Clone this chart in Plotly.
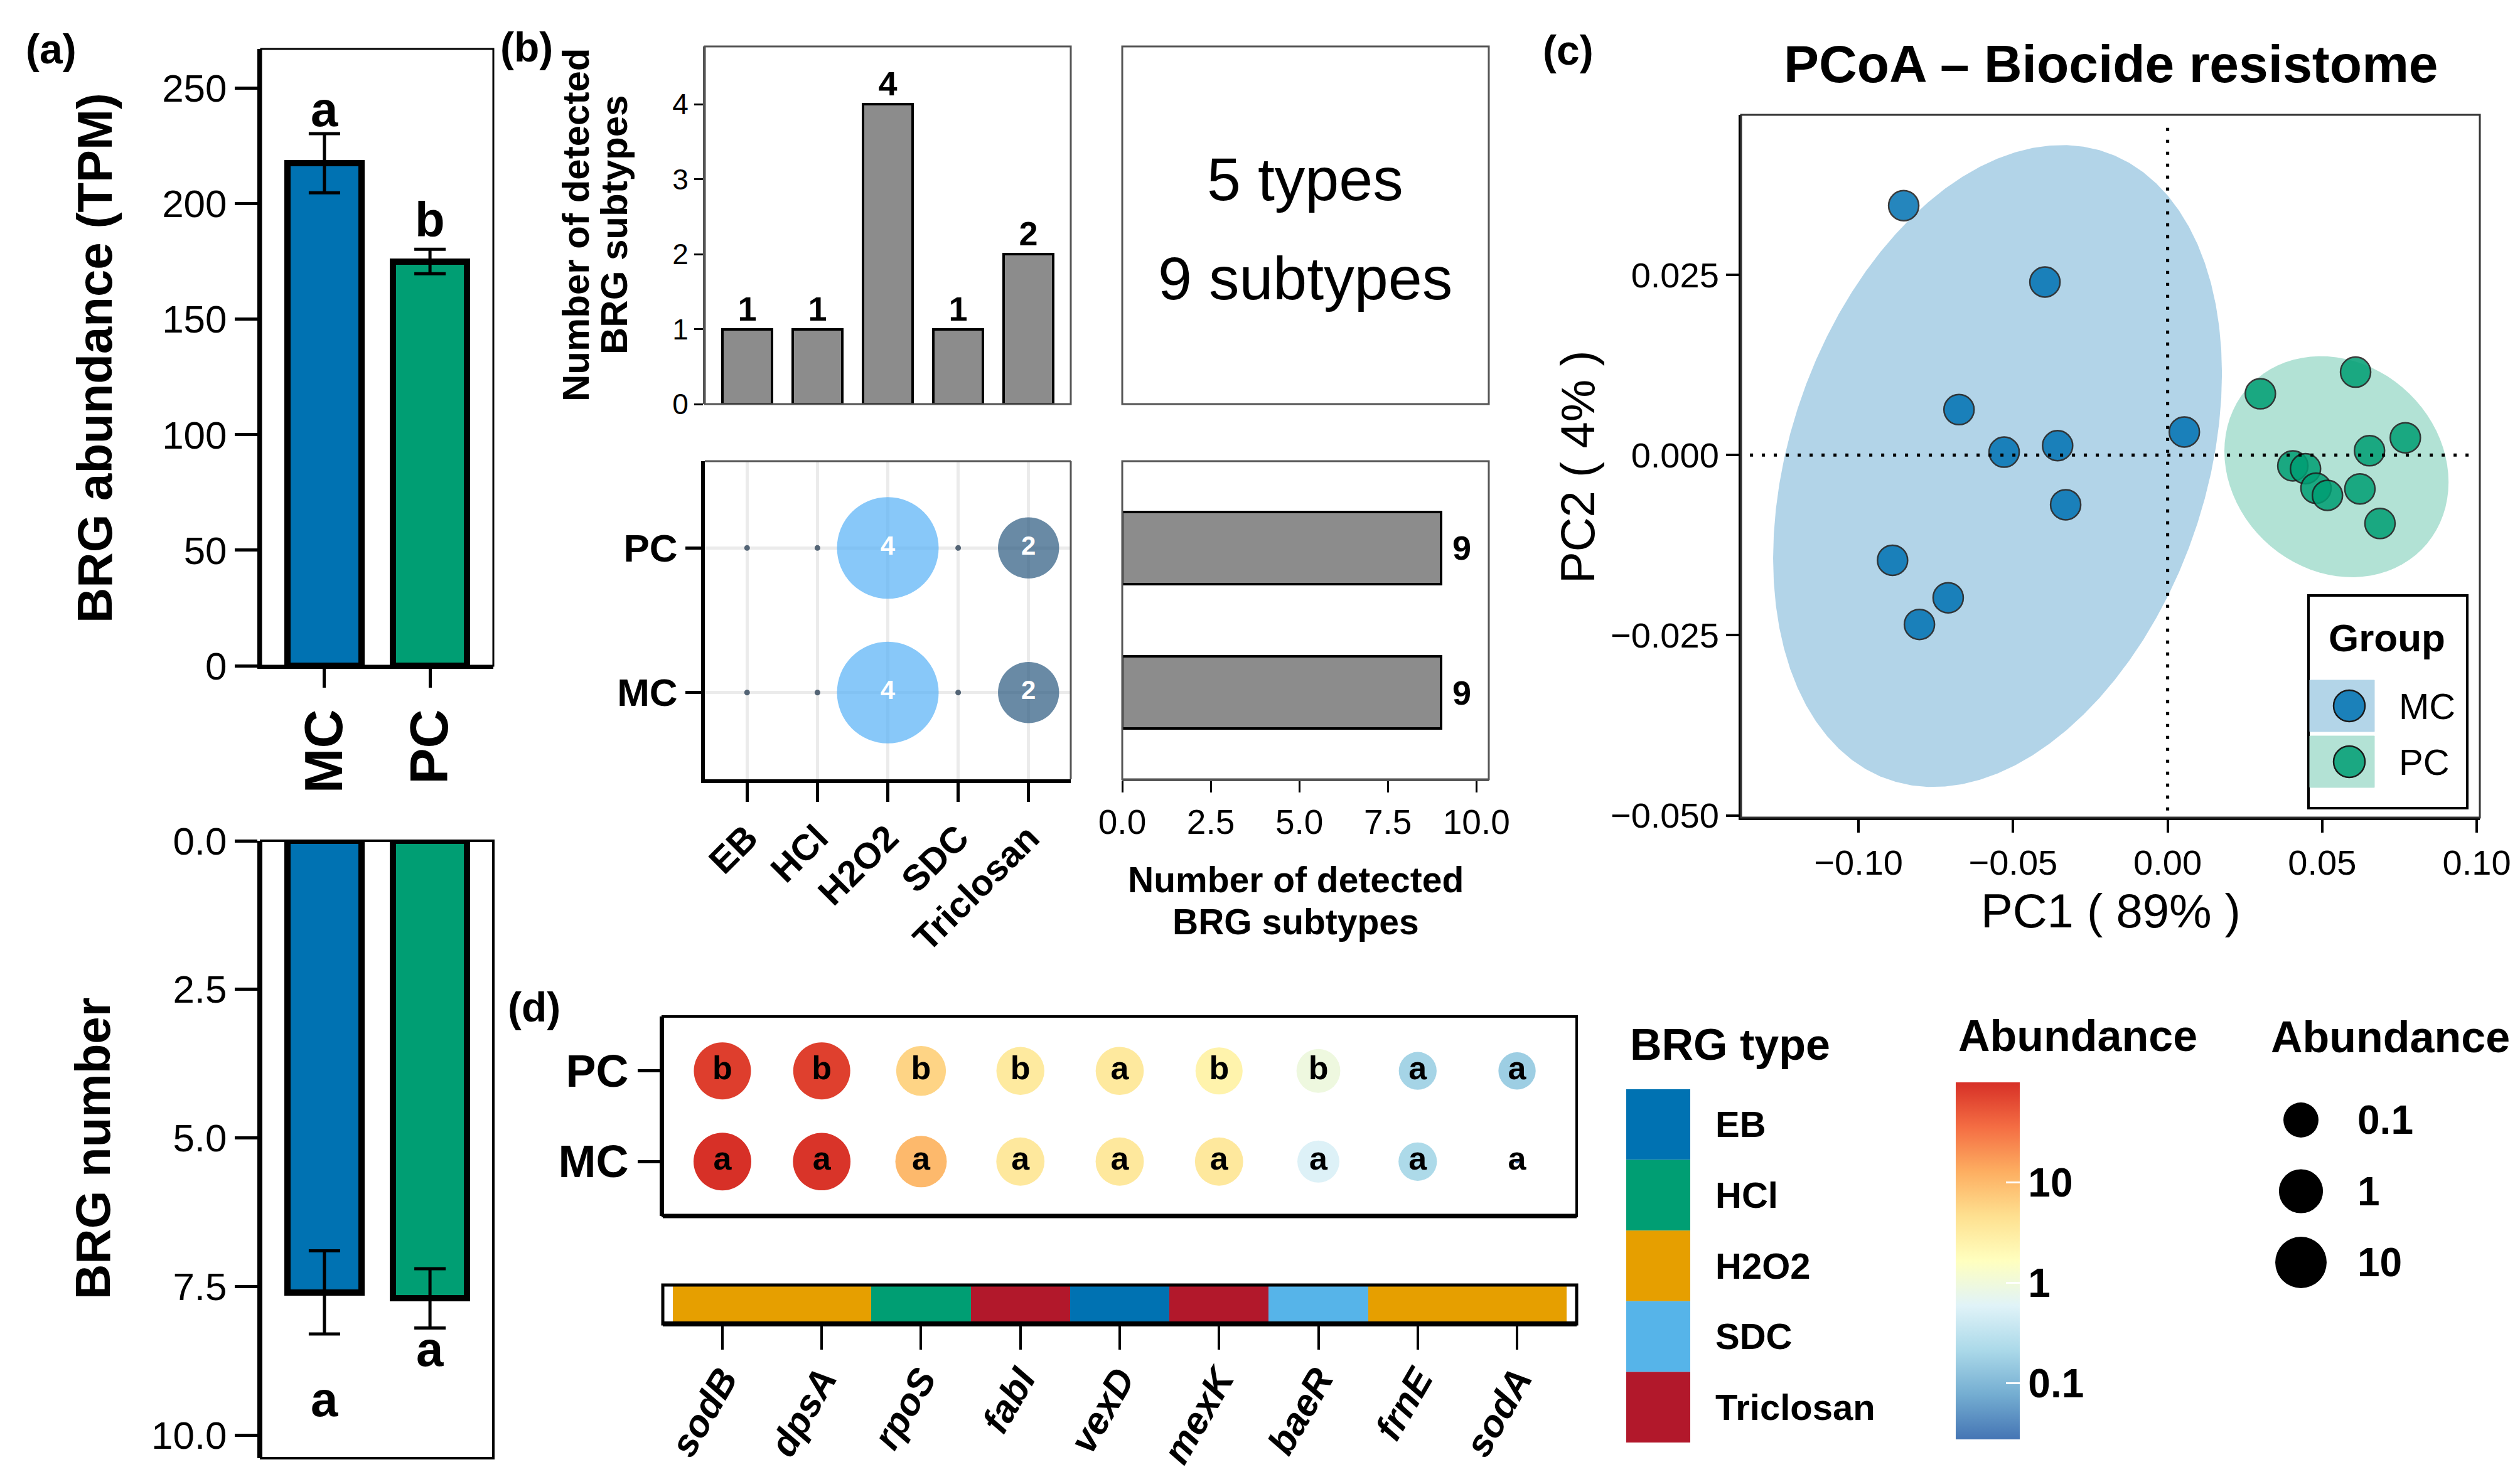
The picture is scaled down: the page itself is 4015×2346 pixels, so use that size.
import numpy as np
import plotly.graph_objects as go

W, H = 4015, 2346
FONT = "Liberation Sans, Arial, Helvetica, sans-serif"

# ------------------------------------------------------------------ data
groups = ["MC", "PC"]
group_colors = ["#0072B2", "#009E73"]

abund_mean = [217.5, 175.0]
abund_err = [12.8, 5.3]
abund_letters = ["a", "b"]
abund_letter_y = [241, 193]

number_mean = [7.6, 7.7]
number_err = [0.7, 0.5]
number_letters = ["a", "a"]
number_letter_y = [9.4, 8.55]

brg_types = ["EB", "HCl", "H2O2", "SDC", "Triclosan"]
type_colors = ["#0072B2", "#009E73", "#E69F00", "#56B4E9", "#B2182B"]

genes = ["sodB", "dpsA", "rpoS", "fabI", "vexD", "mexK", "baeR", "frnE", "sodA"]
gene_type = ["H2O2", "H2O2", "HCl", "Triclosan", "EB", "Triclosan", "SDC", "H2O2", "H2O2"]
abund_gene_MC = [100, 93, 10.2, 3.5, 3.5, 3.5, 0.56, 0.22, 0.003]
abund_gene_PC = [79, 76, 5.9, 3.3, 3.4, 2.5, 0.93, 0.19, 0.166]
letters_MC = ["a", "a", "a", "a", "a", "a", "a", "a", "a"]
letters_PC = ["b", "b", "b", "b", "a", "b", "b", "a", "a"]

mc_pc1 = [-0.0854, -0.0397, -0.0675, -0.0529, -0.0356, 0.0054, -0.0330, -0.0890, -0.0710, -0.0803]
mc_pc2 = [0.0346, 0.0240, 0.0063, 0.0004, 0.0013, 0.0032, -0.0069, -0.0146, -0.0198, -0.0235]
pc_pc1 = [0.0300, 0.0608, 0.0769, 0.0653, 0.0405, 0.0446, 0.0480, 0.0517, 0.0622, 0.0687]
pc_pc2 = [0.0085, 0.0115, 0.0024, 0.0006, -0.0015, -0.0019, -0.0046, -0.0056, -0.0047, -0.0095]
pc1_title = "PC1 ( 89% )"
pc2_title = "PC2 ( 4% )"

a_top_ticks = [0, 50, 100, 150, 200, 250]
a_bot_ticks = [0, 2.5, 5.0, 7.5, 10.0]
b_count_ticks = [0, 1, 2, 3, 4]
b_hbar_ticks = [0, 2.5, 5.0, 7.5, 10.0]
pcoa_x_ticks = [-0.10, -0.05, 0.0, 0.05, 0.10]
pcoa_y_ticks = [-0.050, -0.025, 0.0, 0.025]
abund_breaks = [0.1, 1, 10]
color_limits = [0.0275, 100]

# ------------------------------------------------------------------ helpers
def xd(a, b):
    return [a / W, b / W]

def yd(t, b):
    return [1 - b / H, 1 - t / H]

def PX(x):
    return x / W

def PY(y):
    return 1 - y / H

def font(size, bold=False, color="black", family=FONT, italic=False):
    d = dict(family=family, size=size, color=color)
    if bold:
        d["weight"] = "bold"
    if italic:
        d["style"] = "italic"
    return d

def base_axis(**kw):
    d = dict(showgrid=False, zeroline=False, showline=False, ticks="",
             showticklabels=False, fixedrange=True)
    d.update(kw)
    return d

def minus(s):
    return s.replace("-", "\u2212")

annotations = []
shapes = []

def ann(x, y, text, size, bold=False, angle=0, xanchor="center", yanchor="middle",
        color="black", family=FONT, xref="paper", yref="paper", xshift=0):
    if xref == "paper":
        x = PX(x)
    if yref == "paper":
        y = PY(y)
    annotations.append(dict(x=x, y=y, xref=xref, yref=yref, text=text, showarrow=False,
                            textangle=angle, xanchor=xanchor, yanchor=yanchor, xshift=xshift,
                            font=font(size, bold, color, family)))

def rect(x0, y0, x1, y1, color="black", width=3, fill="rgba(0,0,0,0)"):
    shapes.append(dict(type="rect", xref="paper", yref="paper", x0=PX(x0), x1=PX(x1),
                       y0=PY(y0), y1=PY(y1), line=dict(color=color, width=width),
                       fillcolor=fill))

def hline(x0, x1, y, color="black", width=3):
    shapes.append(dict(type="line", xref="paper", yref="paper", x0=PX(x0), x1=PX(x1),
                       y0=PY(y), y1=PY(y), line=dict(color=color, width=width)))

def vline(x, y0, y1, color="black", width=3):
    shapes.append(dict(type="line", xref="paper", yref="paper", x0=PX(x), x1=PX(x),
                       y0=PY(y0), y1=PY(y1), line=dict(color=color, width=width)))

def circle(cx, cy, d, fill, line_color=None, line_width=0):
    shapes.append(dict(type="circle", xref="paper", yref="paper",
                       x0=PX(cx - d / 2), x1=PX(cx + d / 2), y0=PY(cy + d / 2), y1=PY(cy - d / 2),
                       fillcolor=fill,
                       line=dict(color=line_color or fill, width=line_width)))

# robust ellipse (MASS::cov.trob + ggplot2 stat_ellipse)
def cov_trob(X, nu=5, maxit=25, tol=0.01):
    X = np.asarray(X, float)
    n, p = X.shape
    wt = np.ones(n)
    loc = X.mean(axis=0)
    w = np.sqrt(wt)
    Xc = X - loc
    for _ in range(maxit):
        w0 = w
        Xc = X - loc
        _, d, vt = np.linalg.svd(np.sqrt(w / w.sum())[:, None] * Xc, full_matrices=False)
        wX = Xc @ vt.T @ np.diag(1 / d)
        Q = (wX ** 2).sum(axis=1)
        w = (wt * (nu + p)) / (nu + Q)
        loc = (w[:, None] * X).sum(axis=0) / w.sum()
        if np.all(np.abs(w - w0) < tol):
            break
    sw = np.sqrt(w)[:, None] * Xc
    return loc, sw.T @ sw / wt.sum()

def stat_ellipse(xs, ys, level=0.95, segments=80):
    X = np.column_stack([xs, ys])
    center, shape = cov_trob(X)
    dfd = len(xs) - 1
    fq = (dfd / 2) * ((1 - level) ** (-2 / dfd) - 1)
    radius = np.sqrt(2 * fq)
    R = np.linalg.cholesky(shape).T
    ang = np.linspace(0, 2 * np.pi, segments + 1)
    circ = np.column_stack([np.cos(ang), np.sin(ang)])
    e = center + radius * (circ @ R)
    return e[:, 0], e[:, 1]

# ------------------------------------------------------------------ derived
type_count = [gene_type.count(t) for t in brg_types]
det_by_group = {
    "MC": [sum(1 for g, a in zip(gene_type, abund_gene_MC) if g == t and a > 0) for t in brg_types],
    "PC": [sum(1 for g, a in zip(gene_type, abund_gene_PC) if g == t and a > 0) for t in brg_types],
}
det_total = [sum(det_by_group[g]) for g in groups]
type_color_of = dict(zip(brg_types, type_colors))

cnt_all = det_by_group["MC"] + det_by_group["PC"]
cmin_cnt, cmax_cnt = min(cnt_all), max(cnt_all)

def count_d(c):
    return 9 + 153 * np.sqrt((c - cmin_cnt) / (cmax_cnt - cmin_cnt))

log_all = np.log10(np.array(abund_gene_MC + abund_gene_PC))
lmin, lmax = log_all.min(), log_all.max()

def bubble_d(v):
    return 6 + 86 * np.sqrt((np.log10(v) - lmin) / (lmax - lmin))

RDYLBU9 = ["#4575B4", "#74ADD1", "#ABD9E9", "#E0F3F8", "#FFFFBF",
           "#FEE090", "#FDAE61", "#F46D43", "#D73027"]
heat_scale = [[i / 8, c] for i, c in enumerate(RDYLBU9)]
ccmin, ccmax = np.log10(color_limits[0]), np.log10(color_limits[1])

traces = []

# ------------------------------------------------------------------ panel (a)
traces.append(go.Bar(
    x=groups, y=abund_mean, width=0.7, xaxis="x", yaxis="y",
    marker=dict(color=group_colors, line=dict(color="black", width=10)),
    error_y=dict(type="data", array=abund_err, color="black", thickness=5, width=25),
    showlegend=False))
for g, ly, lt in zip(groups, abund_letter_y, abund_letters):
    ann(g, ly, lt, 78, True, xref="x", yref="y")

traces.append(go.Bar(
    x=groups, y=number_mean, width=0.7, xaxis="x2", yaxis="y2",
    marker=dict(color=group_colors, line=dict(color="black", width=10)),
    error_y=dict(type="data", array=number_err, color="black", thickness=5, width=25),
    showlegend=False))
for g, ly, lt in zip(groups, number_letter_y, number_letters):
    ann(g, ly, lt, 78, True, xref="x2", yref="y2")

# ------------------------------------------------------------------ panel (b)
traces.append(go.Bar(
    x=brg_types, y=type_count, width=0.7, xaxis="x3", yaxis="y3",
    marker=dict(color="#8C8C8C", line=dict(color="black", width=4)),
    text=[str(v) for v in type_count], textposition="outside",
    textfont=font(54, True), cliponaxis=False, showlegend=False))

for g in groups:
    cnt = det_by_group[g]
    traces.append(go.Scatter(
        x=brg_types, y=[g] * len(brg_types), xaxis="x4", yaxis="y4", mode="markers+text",
        marker=dict(size=[count_d(c) for c in cnt], color=cnt, colorscale=[[0, "#132B43"], [1, "#56B1F7"]],
                    cmin=cmin_cnt, cmax=cmax_cnt, opacity=0.7, line=dict(width=0)),
        text=[str(c) if c > cmin_cnt else "" for c in cnt], textposition="middle center",
        textfont=font(42, True, "white"), showlegend=False, cliponaxis=False))

traces.append(go.Bar(
    y=groups, x=det_total, orientation="h", width=0.5, xaxis="x5", yaxis="y5",
    marker=dict(color="#8C8C8C", line=dict(color="black", width=4)),
    showlegend=False))
for g, v in zip(groups, det_total):
    ann(v, g, str(v), 54, True, xanchor="left", xref="x5", yref="y5", xshift=16)

# ------------------------------------------------------------------ panel (c)
for xs, ys, fill in [(mc_pc1, mc_pc2, "rgba(0,114,178,0.30)"), (pc_pc1, pc_pc2, "rgba(0,158,115,0.30)")]:
    ex, ey = stat_ellipse(xs, ys)
    traces.append(go.Scatter(x=ex, y=ey, xaxis="x6", yaxis="y6", mode="lines", fill="toself",
                             fillcolor=fill, line=dict(width=0), showlegend=False, hoverinfo="skip"))
for xs, ys, col in [(mc_pc1, mc_pc2, group_colors[0]), (pc_pc1, pc_pc2, group_colors[1])]:
    traces.append(go.Scatter(x=xs, y=ys, xaxis="x6", yaxis="y6", mode="markers",
                             marker=dict(size=48, color=col, opacity=0.85,
                                         line=dict(color="#1a1a1a", width=2.5)),
                             showlegend=False))

# ------------------------------------------------------------------ panel (d)
vals = abund_gene_MC + abund_gene_PC
traces.append(go.Scatter(
    x=genes + genes, y=["MC"] * len(genes) + ["PC"] * len(genes), xaxis="x7", yaxis="y7",
    mode="markers+text",
    marker=dict(size=[bubble_d(v) for v in vals], color=list(np.log10(vals)), opacity=1,
                colorscale=heat_scale, cmin=ccmin, cmax=ccmax, line=dict(width=0),
                showscale=True,
                colorbar=dict(x=PX(3108), xanchor="left", xref="paper", xpad=0, ypad=0,
                              y=PY((1717 + 2286) / 2), yanchor="middle", yref="paper",
                              len=569, lenmode="pixels", thickness=102, thicknessmode="pixels",
                              outlinewidth=0, tickvals=list(np.log10(abund_breaks)),
                              ticktext=[f"{b:g}" for b in abund_breaks],
                              ticks="inside", ticklen=22, tickwidth=3, tickcolor="white",
                              tickfont=font(64, True), title=dict(text=""))),
    text=letters_MC + letters_PC, textposition="middle center", textfont=font(52, True),
    showlegend=False, cliponaxis=False))

traces.append(go.Bar(
    x=genes, y=[1] * len(genes), width=1, xaxis="x8", yaxis="y8",
    marker=dict(color=[type_color_of[t] for t in gene_type], line=dict(width=0)),
    showlegend=False))

fig = go.Figure(data=traces)

# ------------------------------------------------------------------ axes
tick_common = dict(showticklabels=True, ticks="outside", tickcolor="black")
layout_axes = dict(
    xaxis=base_axis(domain=xd(408, 778), anchor="y", type="category", categoryorder="array",
                    categoryarray=groups, range=[-0.6, 1.6], ticklen=30, tickwidth=5,
                    tickangle=-90, tickfont=font(86, True), showline=True, linecolor="black",
                    linewidth=5, **tick_common),
    yaxis=base_axis(domain=yd(70, 1053), anchor="x", range=[0, 267], tickvals=a_top_ticks,
                    ticklen=36, tickwidth=5, tickfont=font(62), showline=True,
                    linecolor="black", linewidth=6, **tick_common),
    xaxis2=base_axis(domain=xd(408, 778), anchor="y2", type="category", categoryorder="array",
                     categoryarray=groups, range=[-0.6, 1.6]),
    yaxis2=base_axis(domain=yd(1332, 2316), anchor="x2", range=[10.39, 0], tickvals=a_bot_ticks,
                     ticktext=[f"{v:.1f}" for v in a_bot_ticks], ticklen=36, tickwidth=5,
                     tickfont=font(62), showline=True, linecolor="black", linewidth=6, **tick_common),
    xaxis3=base_axis(domain=xd(1115, 1698), anchor="y3", type="category", categoryorder="array",
                     categoryarray=brg_types, range=[-0.6, 4.6]),
    yaxis3=base_axis(domain=yd(66, 636), anchor="x3", range=[0, 4.77], tickvals=b_count_ticks,
                     ticklen=14, tickwidth=3, tickfont=font(46), showline=True,
                     linecolor="#555555", linewidth=3, **tick_common),
    xaxis4=base_axis(domain=xd(1115, 1698), anchor="y4", type="category", categoryorder="array",
                     categoryarray=brg_types, range=[-0.6, 4.6], showgrid=True,
                     gridcolor="#EBEBEB", gridwidth=5, ticklen=30, tickwidth=5, tickangle=-45,
                     tickfont=font(58, True), showline=True, linecolor="black", linewidth=6,
                     **tick_common),
    yaxis4=base_axis(domain=yd(727, 1234), anchor="x4", type="category", categoryorder="array",
                     categoryarray=groups, range=[-0.6, 1.6], showgrid=True, gridcolor="#EBEBEB",
                     gridwidth=5, ticklen=25, tickwidth=5, tickfont=font(62, True),
                     showline=True, linecolor="black", linewidth=6, **tick_common),
    xaxis5=base_axis(domain=xd(1780, 2364), anchor="y5", range=[0, 10.35], tickvals=b_hbar_ticks,
                     ticktext=[f"{v:.1f}" for v in b_hbar_ticks], ticklen=18, tickwidth=3,
                     tickfont=font(55), showline=True, linecolor="#555555", linewidth=3,
                     **tick_common),
    yaxis5=base_axis(domain=yd(727, 1234), anchor="x5", type="category", categoryorder="array",
                     categoryarray=groups, range=[-0.6, 1.6]),
    xaxis6=base_axis(domain=xd(2766, 3943), anchor="y6", range=[-0.138, 0.101],
                     tickvals=pcoa_x_ticks, ticktext=[minus(f"{v:.2f}") for v in pcoa_x_ticks],
                     ticklen=20, tickwidth=4, tickfont=font(56), showline=True,
                     linecolor="black", linewidth=4, **tick_common),
    yaxis6=base_axis(domain=yd(175, 1295), anchor="x6", range=[-0.0503, 0.0472],
                     tickvals=pcoa_y_ticks, ticktext=[minus(f"{v:.3f}") for v in pcoa_y_ticks],
                     ticklen=20, tickwidth=4, tickfont=font(56), showline=True,
                     linecolor="black", linewidth=4, **tick_common),
    xaxis7=base_axis(domain=xd(1048, 2504), anchor="y7", type="category", categoryorder="array",
                     categoryarray=genes, range=[-0.6, 8.6]),
    yaxis7=base_axis(domain=yd(1612, 1930), anchor="x7", type="category", categoryorder="array",
                     categoryarray=groups, range=[-0.6, 1.6], ticklen=35, tickwidth=5,
                     tickfont=font(72, True), showline=True, linecolor="black", linewidth=5,
                     **tick_common),
    xaxis8=base_axis(domain=xd(1048, 2504), anchor="y8", type="category", categoryorder="array",
                     categoryarray=genes, range=[-0.6, 8.6], ticklen=40, tickwidth=4,
                     tickangle=-60, tickfont=font(60, True, italic=True),
                     ticklabelstandoff=-12, **tick_common),
    yaxis8=base_axis(domain=yd(2040, 2102), anchor="x8", range=[0, 1]),
)

# ------------------------------------------------------------------ frames / decorations
rect(408, 70, 778, 1053, "black", 3)
rect(408, 1332, 778, 2316, "black", 4)
rect(1115, 66, 1698, 636, "#555555", 3)
rect(1780, 66, 2364, 636, "#555555", 3)
hline(1115, 1698, 727, "#555555", 3)
vline(1698, 727, 1234, "#555555", 3)
rect(1780, 727, 2364, 1234, "#555555", 3)
rect(2766, 175, 3943, 1295, "#333333", 3)
rect(1048, 1612, 2504, 1930, "black", 4)
hline(1048, 2504, 1930, "black", 7)
rect(1048, 2040, 2504, 2102, "black", 5)
hline(1048, 2504, 2102, "black", 8)

# dotted zero lines (panel c)
shapes.append(dict(type="line", xref="x6", yref="y6 domain", x0=0, x1=0, y0=0.01, y1=0.99,
                   line=dict(color="black", width=5, dash="5px,14px")))
shapes.append(dict(type="line", xref="x6 domain", yref="y6", x0=0.012, x1=0.99, y0=0, y1=0,
                   line=dict(color="black", width=5, dash="5px,14px")))

# panel labels
ann(73, 70, "(a)", 66, True)
ann(831, 67, "(b)", 66, True)
ann(2490, 72, "(c)", 66, True)
ann(843, 1597, "(d)", 66, True)

# panel (a) titles
ann(143, 563, "BRG abundance (TPM)", 78, True, angle=-90)
ann(140, 1823, "BRG number", 78, True, angle=-90)

# panel (b) texts
ann(910, 351, "Number of detected", 60, True, angle=-90)
ann(971, 351, "BRG subtypes", 60, True, angle=-90)
ann(2071, 277, f"{len(brg_types)} types", 97)
ann(2071, 435, f"{len(genes)} subtypes", 97)
ann(2056, 1394, "Number of detected", 57, True)
ann(2056, 1461, "BRG subtypes", 57, True)

# panel (c) texts
ann(3355, 94, "PCoA \u2013 Biocide resistome", 84, True)
ann(3355, 1443, pc1_title, 76)
ann(2505, 736, pc2_title, 76, angle=-90)

# group legend
rect(3670, 941, 3923, 1280, "black", 4)
ann(3795, 1008, "Group", 62, True)
key_fill = ["#B3D5E8", "#B3E2D5"]
key_pt = ["rgba(0,114,178,0.85)", "rgba(0,158,115,0.85)"]
for i, g in enumerate(groups):
    ky = 1117 + i * 89
    rect(3672, ky - 41, 3775, ky + 41, key_fill[i], 1, key_fill[i])
    circle(3735, ky, 50, key_pt[i], "#1a1a1a", 2.5)
    ann(3812, ky, g, 58, xanchor="left")

# BRG type legend
ann(2748, 1657, "BRG type", 70, True)
for i, (t, c) in enumerate(zip(brg_types, type_colors)):
    y0 = 1728 + i * 112.6
    rect(2583, y0, 2685, y0 + 112.6, c, 0, c)
    ann(2723, y0 + 56, t, 58, True, xanchor="left")

# colour-bar title and left white ticks
ann(3302, 1643, "Abundance", 70, True)
for b in abund_breaks:
    yb = 2286 - (np.log10(b) - ccmin) / (ccmax - ccmin) * 569
    hline(3108, 3130, yb, "white", 3)

# size legend
ann(3800, 1645, "Abundance", 70, True)
for i, b in enumerate(abund_breaks):
    cy = 1777 + i * 113.5
    circle(3658, cy, bubble_d(b), "black")
    ann(3746, cy, f"{b:g}", 64, True, xanchor="left")

fig.update_layout(
    width=W, height=H, margin=dict(l=0, r=0, t=0, b=0),
    paper_bgcolor="white", plot_bgcolor="rgba(0,0,0,0)",
    template="none", showlegend=False, bargap=0,
    font=dict(family=FONT, color="black"),
    annotations=annotations, shapes=shapes, **layout_axes)

fig.write_html("out.html")
